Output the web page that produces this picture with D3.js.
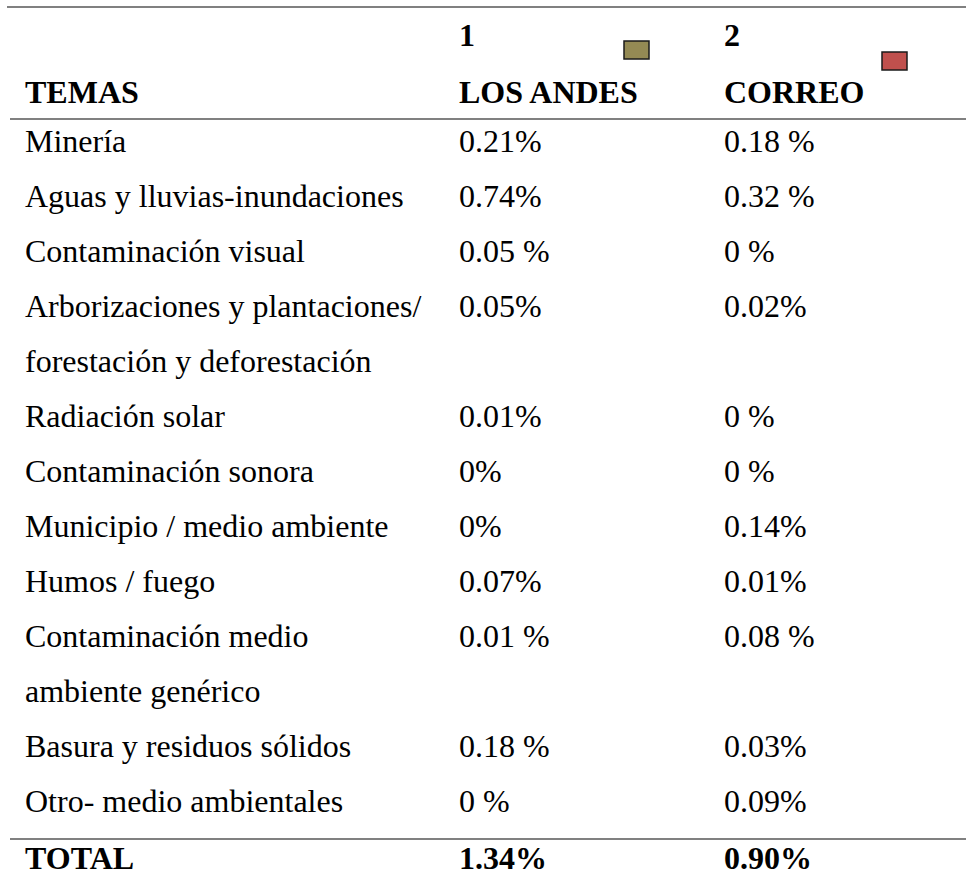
<!DOCTYPE html>
<html>
<head>
<meta charset="utf-8">
<script src="https://cdn.jsdelivr.net/npm/d3@7/dist/d3.min.js"></script>
<style>
  html, body { margin: 0; padding: 0; background: #fff; }
  svg { display: block; }
</style>
</head>
<body>
<div id="chart"></div>
<script>
// ---- data ----
const headerNumbers = ["1", "2"];
const headerTitle = "TEMAS";
const seriesNames = ["LOS ANDES", "CORREO"];
const seriesColors = ["#948a54", "#c0504d"];
const categories = [
  ["Minería"],
  ["Aguas y lluvias-inundaciones"],
  ["Contaminación visual"],
  ["Arborizaciones y plantaciones/", "forestación y deforestación"],
  ["Radiación solar"],
  ["Contaminación sonora"],
  ["Municipio / medio ambiente"],
  ["Humos / fuego"],
  ["Contaminación medio", "ambiente genérico"],
  ["Basura y residuos sólidos"],
  ["Otro- medio ambientales"]
];
const losAndes = ["0.21%", "0.74%", "0.05 %", "0.05%", "0.01%", "0%", "0%", "0.07%", "0.01 %", "0.18 %", "0 %"];
const correo   = ["0.18 %", "0.32 %", "0 %", "0.02%", "0 %", "0 %", "0.14%", "0.01%", "0.08 %", "0.03%", "0.09%"];
const totalLabel = "TOTAL";
const totals = ["1.34%", "0.90%"];

// ---- layout ----
const W = 966, H = 889;
const svg = d3.select("#chart").append("svg").attr("width", W).attr("height", H);
const font = "'Liberation Serif', 'Times New Roman', serif";
const fs = 32;

// columns
const x = d3.scaleOrdinal().domain(["label", "s0", "s1"]).range([25, 459, 724]);

// body line positions (line index -> baseline)
let lineIdx = 0;
const rows = categories.map((c, i) => {
  const r = { lines: c, start: lineIdx, vals: [losAndes[i], correo[i]] };
  lineIdx += c.length;
  return r;
});
const nLines = lineIdx;
const y = d3.scaleLinear().domain([0, nLines - 1]).range([152, 812]);

const lineColor = "#808080";
// rules
svg.append("line").attr("x1", 7).attr("x2", W).attr("y1", 7).attr("y2", 7)
  .attr("stroke", lineColor).attr("stroke-width", 2);
svg.append("line").attr("x1", 10).attr("x2", W).attr("y1", 119).attr("y2", 119)
  .attr("stroke", lineColor).attr("stroke-width", 2);
svg.append("line").attr("x1", 10).attr("x2", W).attr("y1", 839).attr("y2", 839)
  .attr("stroke", lineColor).attr("stroke-width", 2);

// header
const hdr = svg.append("g").attr("font-family", font).attr("font-size", fs)
  .attr("font-weight", "bold").attr("fill", "#000");
hdr.append("text").attr("x", x("label")).attr("y", 103).text(headerTitle);
["s0", "s1"].forEach((k, i) => {
  hdr.append("text").attr("x", x(k)).attr("y", 46).text(headerNumbers[i]);
  hdr.append("text").attr("x", x(k)).attr("y", 103).text(seriesNames[i]);
});
// legend swatches
const sw = [{ x: 624, y: 41 }, { x: 882, y: 52 }];
seriesColors.forEach((c, i) => {
  svg.append("rect").attr("x", sw[i].x).attr("y", sw[i].y)
    .attr("width", 25).attr("height", 18)
    .attr("fill", c).attr("stroke", "#1a1a1a").attr("stroke-width", 1.5);
});

// body
const body = svg.append("g").attr("font-family", font).attr("font-size", fs).attr("fill", "#000");
rows.forEach(r => {
  r.lines.forEach((t, j) => {
    body.append("text").attr("x", x("label")).attr("y", y(r.start + j)).text(t);
  });
  body.append("text").attr("x", x("s0")).attr("y", y(r.start)).text(r.vals[0]);
  body.append("text").attr("x", x("s1")).attr("y", y(r.start)).text(r.vals[1]);
});

// total
const tot = svg.append("g").attr("font-family", font).attr("font-size", fs)
  .attr("font-weight", "bold").attr("fill", "#000");
tot.append("text").attr("x", x("label")).attr("y", 869).text(totalLabel);
tot.append("text").attr("x", x("s0")).attr("y", 869).text(totals[0]);
tot.append("text").attr("x", x("s1")).attr("y", 869).text(totals[1]);
</script>
</body>
</html>
